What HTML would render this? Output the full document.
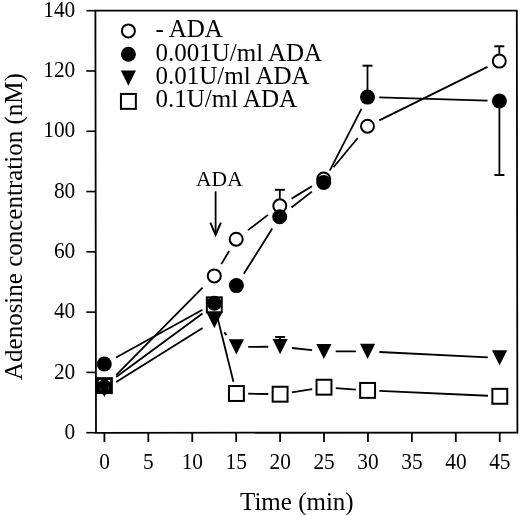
<!DOCTYPE html>
<html><head><meta charset="utf-8"><style>
html,body{margin:0;padding:0;background:#fff;width:520px;height:515px;overflow:hidden;font-family:"Liberation Serif",serif;}
svg{display:block;will-change:transform;}
</style></head><body>
<svg width="520" height="515" viewBox="0 0 520 515">
<rect width="520" height="515" fill="#fff"/>
<g stroke="#000" stroke-width="1.8" fill="none" stroke-linecap="square">
<path d="M95.4 10.7L516.8 10.7L517.4 432.6L96.0 432.8Z" stroke-linejoin="miter"/>
<line x1="86.3" y1="432.70" x2="95.60" y2="432.70" stroke-linecap="butt" stroke-width="1.6"/>
<line x1="86.3" y1="372.41" x2="95.60" y2="372.41" stroke-linecap="butt" stroke-width="1.6"/>
<line x1="86.3" y1="312.13" x2="95.60" y2="312.13" stroke-linecap="butt" stroke-width="1.6"/>
<line x1="86.3" y1="251.84" x2="95.60" y2="251.84" stroke-linecap="butt" stroke-width="1.6"/>
<line x1="86.3" y1="191.56" x2="95.60" y2="191.56" stroke-linecap="butt" stroke-width="1.6"/>
<line x1="86.3" y1="131.27" x2="95.60" y2="131.27" stroke-linecap="butt" stroke-width="1.6"/>
<line x1="86.3" y1="70.99" x2="95.60" y2="70.99" stroke-linecap="butt" stroke-width="1.6"/>
<line x1="86.3" y1="10.70" x2="95.60" y2="10.70" stroke-linecap="butt" stroke-width="1.6"/>
<line x1="104.40" y1="432.70" x2="104.40" y2="442" stroke-linecap="butt"/>
<line x1="148.32" y1="432.70" x2="148.32" y2="442" stroke-linecap="butt"/>
<line x1="192.25" y1="432.70" x2="192.25" y2="442" stroke-linecap="butt"/>
<line x1="236.18" y1="432.70" x2="236.18" y2="442" stroke-linecap="butt"/>
<line x1="280.10" y1="432.70" x2="280.10" y2="442" stroke-linecap="butt"/>
<line x1="324.02" y1="432.70" x2="324.02" y2="442" stroke-linecap="butt"/>
<line x1="367.95" y1="432.70" x2="367.95" y2="442" stroke-linecap="butt"/>
<line x1="411.88" y1="432.70" x2="411.88" y2="442" stroke-linecap="butt"/>
<line x1="455.80" y1="432.70" x2="455.80" y2="442" stroke-linecap="butt"/>
<line x1="499.73" y1="432.70" x2="499.73" y2="442" stroke-linecap="butt"/>
</g>
<g font-family="Liberation Serif" font-size="22.5" fill="#000">
<text transform="translate(75.3 438.90) scale(0.95 1)" text-anchor="end">0</text>
<text transform="translate(75.3 378.61) scale(0.95 1)" text-anchor="end">20</text>
<text transform="translate(75.3 318.33) scale(0.95 1)" text-anchor="end">40</text>
<text transform="translate(75.3 258.04) scale(0.95 1)" text-anchor="end">60</text>
<text transform="translate(75.3 197.76) scale(0.95 1)" text-anchor="end">80</text>
<text transform="translate(75.3 137.47) scale(0.95 1)" text-anchor="end">100</text>
<text transform="translate(75.3 77.19) scale(0.95 1)" text-anchor="end">120</text>
<text transform="translate(75.3 16.90) scale(0.95 1)" text-anchor="end">140</text>
<text transform="translate(104.50 469.3) scale(0.95 1)" text-anchor="middle">0</text>
<text transform="translate(148.42 469.3) scale(0.95 1)" text-anchor="middle">5</text>
<text transform="translate(192.35 469.3) scale(0.95 1)" text-anchor="middle">10</text>
<text transform="translate(236.28 469.3) scale(0.95 1)" text-anchor="middle">15</text>
<text transform="translate(280.20 469.3) scale(0.95 1)" text-anchor="middle">20</text>
<text transform="translate(324.12 469.3) scale(0.95 1)" text-anchor="middle">25</text>
<text transform="translate(368.05 469.3) scale(0.95 1)" text-anchor="middle">30</text>
<text transform="translate(411.98 469.3) scale(0.95 1)" text-anchor="middle">35</text>
<text transform="translate(455.90 469.3) scale(0.95 1)" text-anchor="middle">40</text>
<text transform="translate(499.83 469.3) scale(0.95 1)" text-anchor="middle">45</text>
</g>
<text x="240" y="509.5" font-family="Liberation Serif" font-size="25" fill="#000">Time (min)</text>
<text transform="translate(22.2 226.6) rotate(-90)" text-anchor="middle" font-family="Liberation Serif" font-size="25" fill="#000">Adenosine concentration (nM)</text>
<text x="219.4" y="185.5" text-anchor="middle" font-family="Liberation Serif" font-size="21.5" fill="#000">ADA</text>
<g stroke="#000" stroke-width="1.8" fill="none"><line x1="215.6" y1="191.4" x2="215.6" y2="233"/><path d="M210.3 222.6L215.6 234.8L220.9 222.6" stroke-width="2"/></g>
<circle cx="128.40" cy="30.90" r="6.50" fill="none" stroke="#000" stroke-width="2"/>
<circle cx="128.40" cy="54.20" r="7.5" fill="#000"/>
<path d="M120.80 70.50L136.00 70.50L128.40 85.70Z" fill="#000"/>
<rect x="120.95" y="93.95" width="14.90" height="14.90" fill="none" stroke="#000" stroke-width="2"/>
<g font-family="Liberation Serif" font-size="25" fill="#000">
<text x="155.5" y="36.70">- ADA</text>
<text x="155.5" y="60.60">0.001U/ml ADA</text>
<text x="155.5" y="84.10">0.01U/ml ADA</text>
<text x="155.5" y="107.20">0.1U/ml ADA</text>
</g>
<g stroke="#000" stroke-width="1.8" fill="none">
<line x1="116.07" y1="375.20" x2="202.63" y2="287.70"/>
<line x1="221.34" y1="264.10" x2="229.16" y2="251.00"/>
<line x1="248.00" y1="230.16" x2="268.00" y2="214.84"/>
<line x1="291.60" y1="198.62" x2="311.90" y2="186.28"/>
<line x1="333.47" y1="167.30" x2="357.73" y2="138.00"/>
<line x1="379.30" y1="120.37" x2="487.50" y2="66.93"/>
<line x1="116.10" y1="357.48" x2="202.50" y2="309.72"/>
<line x1="243.83" y1="273.80" x2="272.27" y2="228.60"/>
<line x1="291.50" y1="207.57" x2="311.90" y2="191.63"/>
<line x1="329.76" y1="170.60" x2="361.44" y2="108.90"/>
<line x1="379.30" y1="97.45" x2="487.60" y2="100.65"/>
<line x1="116.20" y1="382.11" x2="202.60" y2="327.99"/>
<line x1="224.27" y1="332.40" x2="226.53" y2="335.10"/>
<line x1="248.20" y1="346.85" x2="268.30" y2="346.75"/>
<line x1="291.90" y1="347.99" x2="312.10" y2="350.21"/>
<line x1="335.70" y1="351.47" x2="355.80" y2="351.43"/>
<line x1="379.40" y1="351.98" x2="487.80" y2="357.32"/>
<line x1="116.20" y1="376.92" x2="202.50" y2="313.48"/>
<line x1="217.24" y1="316.60" x2="233.46" y2="381.70"/>
<line x1="248.20" y1="393.69" x2="268.30" y2="394.01"/>
<line x1="291.90" y1="392.32" x2="312.20" y2="389.08"/>
<line x1="335.80" y1="388.07" x2="355.80" y2="389.53"/>
<line x1="379.40" y1="390.93" x2="488.00" y2="395.77"/>
<line x1="279.80" y1="198.40" x2="279.80" y2="189.80"/><line x1="274.80" y1="189.80" x2="284.80" y2="189.80" stroke-width="2"/>
<line x1="499.30" y1="53.70" x2="499.30" y2="46.30"/><line x1="494.30" y1="46.30" x2="504.30" y2="46.30" stroke-width="2"/>
<line x1="367.50" y1="90.10" x2="367.50" y2="65.70"/><line x1="362.50" y1="65.70" x2="372.50" y2="65.70" stroke-width="2"/>
<line x1="499.40" y1="108.00" x2="499.40" y2="175.00"/><line x1="494.40" y1="175.00" x2="504.40" y2="175.00" stroke-width="2"/>
<line x1="280.10" y1="339.70" x2="280.10" y2="337.00"/><line x1="275.10" y1="337.00" x2="285.10" y2="337.00" stroke-width="2"/>
</g>
<rect x="97.35" y="378.55" width="14.10" height="14.10" fill="none" stroke="#000" stroke-width="2.8"/>
<rect x="206.85" y="297.35" width="14.90" height="14.90" fill="none" stroke="#000" stroke-width="2"/>
<rect x="228.95" y="386.05" width="14.90" height="14.90" fill="none" stroke="#000" stroke-width="2"/>
<rect x="272.65" y="386.75" width="14.90" height="14.90" fill="none" stroke="#000" stroke-width="2"/>
<rect x="316.55" y="379.75" width="14.90" height="14.90" fill="none" stroke="#000" stroke-width="2"/>
<rect x="360.15" y="382.95" width="14.90" height="14.90" fill="none" stroke="#000" stroke-width="2"/>
<rect x="492.35" y="388.85" width="14.90" height="14.90" fill="none" stroke="#000" stroke-width="2"/>
<circle cx="104.40" cy="387.00" r="6.10" fill="none" stroke="#000" stroke-width="2.8"/>
<circle cx="214.30" cy="275.90" r="6.50" fill="none" stroke="#000" stroke-width="2"/>
<circle cx="236.20" cy="239.20" r="6.50" fill="none" stroke="#000" stroke-width="2"/>
<circle cx="279.80" cy="205.80" r="6.50" fill="none" stroke="#000" stroke-width="2"/>
<circle cx="323.70" cy="179.10" r="6.50" fill="none" stroke="#000" stroke-width="2"/>
<circle cx="367.50" cy="126.20" r="6.50" fill="none" stroke="#000" stroke-width="2"/>
<circle cx="499.30" cy="61.10" r="6.50" fill="none" stroke="#000" stroke-width="2"/>
<path d="M96.80 381.90L112.00 381.90L104.40 397.10Z" fill="#000"/>
<path d="M206.80 313.00L222.00 313.00L214.40 328.20Z" fill="#000"/>
<path d="M228.80 339.30L244.00 339.30L236.40 354.50Z" fill="#000"/>
<path d="M272.50 339.10L287.70 339.10L280.10 354.30Z" fill="#000"/>
<path d="M316.30 343.90L331.50 343.90L323.90 359.10Z" fill="#000"/>
<path d="M360.00 343.80L375.20 343.80L367.60 359.00Z" fill="#000"/>
<path d="M492.00 350.30L507.20 350.30L499.60 365.50Z" fill="#000"/>
<circle cx="104.30" cy="364.00" r="7.5" fill="#000"/>
<circle cx="214.30" cy="303.20" r="7.5" fill="#000"/>
<circle cx="236.40" cy="285.60" r="7.5" fill="#000"/>
<circle cx="279.70" cy="216.80" r="7.5" fill="#000"/>
<circle cx="323.70" cy="182.40" r="7.5" fill="#000"/>
<circle cx="367.50" cy="97.10" r="7.5" fill="#000"/>
<circle cx="499.40" cy="101.00" r="7.5" fill="#000"/>
</svg>
</body></html>
